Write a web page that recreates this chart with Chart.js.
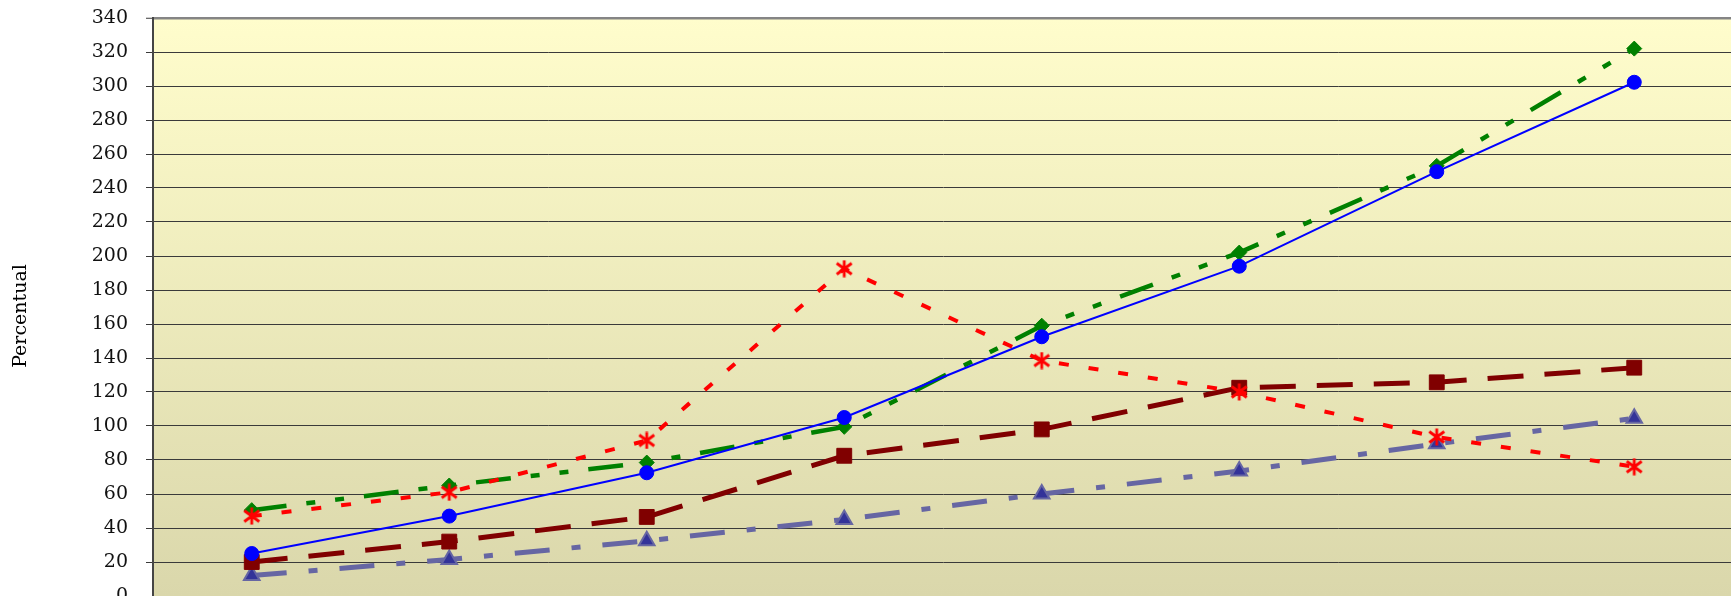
<!DOCTYPE html>
<html lang="pt">
<head>
<meta charset="utf-8">
<title>Percentual</title>
<script src="https://cdn.jsdelivr.net/npm/chart.js@4.4.1/dist/chart.umd.min.js"></script>
<style>
    html, body { margin: 0; padding: 0; overflow: hidden; background: #ffffff; }
    #grafico { display: block; }
</style>
</head>
<body>
<canvas id="grafico" width="1733" height="640"></canvas>
<script>
// Categorias (os rótulos do eixo X ficam fora do recorte da imagem)
const categorias = ['1', '2', '3', '4', '5', '6', '7', '8'];

// Valores
const serieAzul = [25, 47, 72.5, 105, 152.5, 194, 249.6, 302.2];
const serieVerde = [50.5, 65, 78.5, 99.5, 159, 202, 253, 322];
const serieVermelha = [47, 61, 91.5, 192.5, 138.5, 120, 93.5, 76];
const serieBordo = [20, 32, 46.5, 82.5, 98, 122.5, 125.7, 134.3];
const serieLilas = [12, 21.5, 32.5, 45, 60, 73.5, 89.5, 104.5];

// Marcas do eixo Y
const ticksY = [0, 20, 40, 60, 80, 100, 120, 140, 160, 180, 200, 220, 240, 260, 280, 300, 320, 340];

document.addEventListener("DOMContentLoaded", function () {

    // Marcador em forma de asterisco (estilo Excel)
    function criarAsterisco(cor) {
        const c = document.createElement('canvas');
        c.width = 18;
        c.height = 18;
        const g = c.getContext('2d');
        g.strokeStyle = cor;
        g.lineWidth = 2.8;
        g.beginPath();
        g.moveTo(9, 0.5); g.lineTo(9, 17.5);
        g.moveTo(1.5, 3.5); g.lineTo(16.5, 14.5);
        g.moveTo(16.5, 3.5); g.lineTo(1.5, 14.5);
        g.stroke();
        return c;
    }

    // Zera o espaço extra que o Chart.js reserva em volta das escalas
    function semPadding(scale) {
        scale.paddingTop = 0;
        scale.paddingBottom = 0;
        scale.paddingLeft = 0;
        scale.paddingRight = 0;
    }

    // Fundo em degradê da área do gráfico
    const fundoPlugin = {
        id: 'fundo',
        beforeDraw(chart) {
            const ctx = chart.ctx;
            const a = chart.chartArea;
            ctx.save();
            ctx.fillStyle = '#ffffff';
            ctx.fillRect(0, 0, chart.width, chart.height);
            const grad = ctx.createLinearGradient(0, a.top, 0, a.bottom);
            grad.addColorStop(0, '#FFFDCC');
            grad.addColorStop(1, '#DAD7AB');
            ctx.fillStyle = grad;
            ctx.fillRect(a.left, a.top, a.right - a.left, a.bottom - a.top);
            ctx.restore();
        }
    };

    // Título do eixo Y
    const tituloPlugin = {
        id: 'tituloY',
        afterDraw(chart) {
            const ctx = chart.ctx;
            ctx.save();
            ctx.translate(21, 316);
            ctx.rotate(-Math.PI / 2);
            ctx.font = '19px "DejaVu Serif"';
            ctx.fillStyle = '#000000';
            ctx.textAlign = 'center';
            ctx.textBaseline = 'middle';
            ctx.fillText('Percentual', 0, 0);
            ctx.restore();
        }
    };

    const ctx = document.getElementById('grafico').getContext('2d');

    new Chart(ctx, {
        type: 'line',
        data: {
            labels: categorias,
            datasets: [
                {
                    label: 'Série 5',
                    data: serieLilas,
                    order: 5,
                    borderColor: '#6666A3',
                    borderWidth: 5,
                    borderDash: [35, 22, 9, 22],
                    pointStyle: 'triangle',
                    pointRadius: 9,
                    pointBackgroundColor: '#333399',
                    pointBorderColor: '#6666A3',
                    pointBorderWidth: 2,
                    tension: 0
                },
                {
                    label: 'Série 4',
                    data: serieBordo,
                    order: 4,
                    borderColor: '#800000',
                    borderWidth: 5,
                    borderDash: [36, 21],
                    pointStyle: 'rect',
                    pointRadius: 10.5,
                    pointBackgroundColor: '#800000',
                    pointBorderColor: '#800000',
                    pointBorderWidth: 1,
                    tension: 0
                },
                {
                    label: 'Série 2',
                    data: serieVerde,
                    order: 3,
                    borderColor: '#008000',
                    borderWidth: 4.5,
                    borderDash: [35, 20, 9, 20, 9, 20],
                    pointStyle: 'rectRot',
                    pointRadius: 7.5,
                    pointBackgroundColor: '#008000',
                    pointBorderColor: '#008000',
                    pointBorderWidth: 1,
                    tension: 0
                },
                {
                    label: 'Série 1',
                    data: serieAzul,
                    order: 2,
                    borderColor: '#0000FF',
                    borderWidth: 2,
                    pointStyle: 'circle',
                    pointRadius: 7,
                    pointBackgroundColor: '#0000FF',
                    pointBorderColor: '#0000FF',
                    pointBorderWidth: 1,
                    tension: 0
                },
                {
                    label: 'Série 3',
                    data: serieVermelha,
                    order: 1,
                    borderColor: '#FF0000',
                    borderWidth: 4,
                    borderDash: [10, 20],
                    pointStyle: criarAsterisco('#FF0000'),
                    pointRadius: 9,
                    tension: 0
                }
            ]
        },
        options: {
            responsive: false,
            animation: false,
            events: [],
            layout: {
                autoPadding: false,
                padding: { top: 18, right: 0, bottom: 0, left: 0 }
            },
            plugins: {
                legend: { display: false },
                tooltip: { enabled: false }
            },
            scales: {
                x: {
                    offset: true,
                    afterFit: function (scale) {
                        scale.height = 44;
                        semPadding(scale);
                    },
                    ticks: { display: false },
                    grid: { display: false },
                    border: { display: false }
                },
                y: {
                    min: 0,
                    max: 340,
                    afterFit: function (scale) {
                        scale.width = 153;
                        semPadding(scale);
                    },
                    afterBuildTicks: function (scale) {
                        scale.ticks = ticksY.map(v => ({ value: v }));
                    },
                    ticks: {
                        padding: 18,
                        color: '#111111',
                        font: { family: '"DejaVu Serif"', size: 19 }
                    },
                    grid: {
                        color: c => (c.tick && c.tick.value === 340 ? '#858585' : '#3a3a3a'),
                        lineWidth: c => (c.tick && c.tick.value === 340 ? 2.5 : 1),
                        tickColor: '#3a3a3a',
                        tickLength: 7,
                        tickWidth: 1
                    },
                    border: { color: '#454545', width: 2 }
                }
            }
        },
        plugins: [fundoPlugin, tituloPlugin]
    });
});
</script>
</body>
</html>
